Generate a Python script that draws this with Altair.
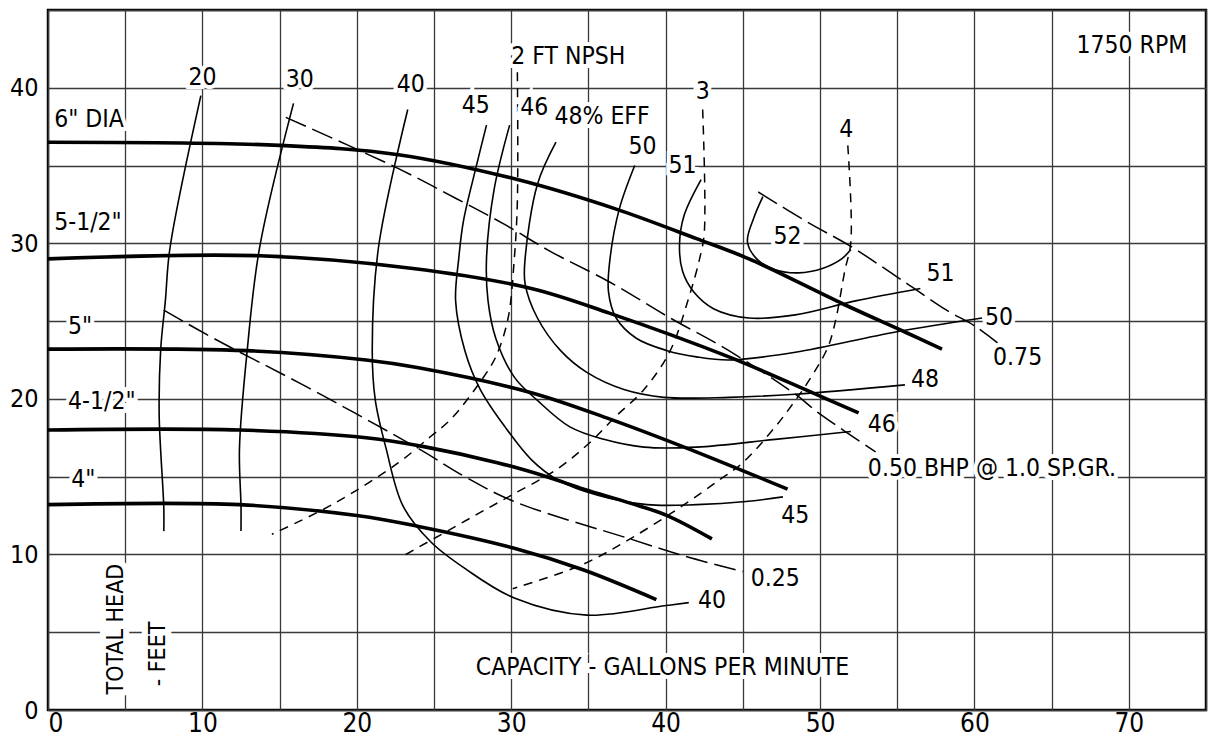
import altair as alt
import pandas as pd

FONT = "Liberation Sans Narrow, DejaVu Sans Condensed, Roboto, sans-serif"

# ---------------- Head-capacity curves (capacity gpm, total head ft) ----------------
dia6_q = [0, 15.0, 22.7, 30.4, 36.8, 42.0, 45.4, 51.5, 55.5, 57.9]
dia6_h = [36.5, 36.3, 35.7, 34.1, 32.2, 30.3, 29.0, 26.1, 24.3, 23.2]
dia55_q = [0, 13.7, 23.5, 31.3, 36.4, 44.1, 49.5, 52.5]
dia55_h = [29.0, 29.2, 28.4, 27.1, 25.5, 22.7, 20.4, 19.1]
dia5_q = [0, 12.9, 20.6, 24.0, 31.3, 36.4, 41.2, 47.9]
dia5_h = [23.2, 23.1, 22.5, 22.0, 20.4, 18.7, 16.9, 14.2]
dia45_q = [0, 12.4, 20.6, 24.5, 29.1, 32.3, 34.7, 37.7, 40.1, 43.0]
dia45_h = [18.0, 18.0, 17.5, 16.9, 15.9, 15.0, 14.2, 13.3, 12.5, 11.0]
dia4_q = [0, 12.4, 20.0, 24.0, 30.2, 34.7, 39.4]
dia4_h = [13.2, 13.2, 12.5, 11.8, 10.4, 9.0, 7.1]

# ---------------- Efficiency curves (%) ----------------
eff20_q = [9.9, 7.9, 7.6, 7.3, 7.2, 7.5, 7.5]
eff20_h = [39.5, 29.7, 26.3, 23.2, 19.0, 13.0, 11.5]
eff30_q = [15.9, 13.7, 12.9, 12.4, 12.5, 12.5]
eff30_h = [39.0, 29.7, 23.1, 16.8, 13.1, 11.5]
eff40_q = [23.3, 21.4, 21.0, 21.2, 21.9, 23.0, 24.8, 27.0, 30.2, 34.9, 39.9, 41.5]
eff40_h = [38.6, 29.7, 23.1, 19.9, 16.8, 13.1, 10.8, 9.1, 7.2, 6.1, 6.7, 6.9]
eff45_q = [28.4, 27.7, 26.9, 26.6, 26.4, 27.0, 28.0, 29.6, 31.3, 33.0, 35.6, 38.8, 42.0, 45.2, 47.6]
eff45_h = [37.6, 34.8, 31.4, 29.0, 26.3, 23.1, 20.6, 18.2, 16.1, 14.8, 13.8, 13.2, 13.2, 13.4, 13.7]
eff46_q = [29.9, 28.9, 28.4, 28.5, 29.0, 30.2, 31.7, 33.8, 36.0, 38.6, 42.0, 47.1, 52.0]
eff46_h = [37.6, 33.5, 29.0, 26.3, 23.9, 21.4, 19.9, 18.2, 17.4, 16.9, 16.9, 17.4, 17.9]
eff48_q = [32.9, 31.7, 30.9, 30.9, 31.7, 33.2, 34.9, 37.3, 39.9, 44.1, 48.4, 55.5]
eff48_h = [36.5, 33.8, 29.0, 27.4, 25.2, 23.1, 21.7, 20.6, 20.1, 20.1, 20.3, 20.9]
eff50_q = [38.0, 37.0, 36.4, 36.3, 36.8, 38.1, 40.1, 42.0, 44.1, 48.4, 54.9, 60.5]
eff50_h = [35.0, 32.2, 29.0, 26.9, 25.2, 23.9, 23.1, 22.7, 22.5, 23.0, 24.3, 25.2]
eff51_q = [42.3, 41.2, 40.9, 41.1, 41.8, 43.1, 45.4, 48.4, 52.3, 56.5]
eff51_h = [34.1, 31.8, 29.9, 28.2, 26.9, 25.8, 25.2, 25.4, 26.3, 27.1]
eff52_q = [46.3, 45.7, 45.3, 45.9, 47.1, 48.6, 50.2, 51.4, 52.0]
eff52_h = [33.0, 31.6, 30.1, 29.0, 28.3, 28.1, 28.4, 29.0, 29.6]

# ---------------- Brake horsepower lines ----------------
bhp025_q = [7.5, 10.9, 16.7, 24.0, 27.0, 30.2, 37.7, 41.2, 45.0]
bhp025_h = [25.7, 23.8, 20.8, 16.8, 15.0, 13.4, 11.0, 9.9, 8.9]
bhp050_q = [15.4, 22.7, 26.4, 29.6, 32.5, 36.4, 40.3, 44.1, 48.4, 49.9, 53.6]
bhp050_h = [38.1, 34.8, 32.9, 31.2, 29.5, 27.5, 25.2, 23.1, 20.3, 19.1, 16.6]
bhp075_q = [46.0, 49.3, 52.0, 55.5, 58.2, 60.0, 61.5]
bhp075_h = [33.3, 31.3, 29.8, 27.5, 25.7, 24.7, 23.6]

# ---------------- NPSH lines ----------------
npsh2_q = [30.4, 30.4, 30.2, 29.8, 29.0, 28.0, 26.1, 24.8, 22.7, 18.4, 14.5]
npsh2_h = [41.0, 32.7, 29.0, 25.2, 22.7, 21.1, 18.7, 17.6, 15.9, 13.2, 11.3]
npsh3_q = [42.4, 42.5, 42.2, 41.5, 40.3, 38.6, 36.8, 35.1, 33.0, 30.0, 28.0, 23.0]
npsh3_h = [38.6, 30.6, 29.0, 26.5, 23.1, 20.6, 18.9, 17.2, 15.5, 13.8, 12.7, 9.9]
npsh4_q = [51.8, 52.0, 51.6, 51.0, 50.5, 49.3, 48.4, 47.1, 45.0, 43.5, 41.2, 37.7, 34.5, 30.1]
npsh4_h = [36.3, 30.1, 28.2, 25.0, 23.3, 21.2, 19.9, 18.2, 15.9, 14.8, 13.2, 11.0, 9.3, 7.8]

# ---------------- Labels ----------------
center_text = ["20", "30", "40", "45", "46", "50", "51", "52", "3", "4", "1750 RPM",
               "CAPACITY - GALLONS PER MINUTE", "51", "50", "48", "46", "45", "40",
               "0.25", "0.75"]
center_q = [10.0, 16.3, 23.5, 27.7, 31.5, 38.5, 41.1, 47.9, 42.4, 51.7, 70.2,
            39.8, 57.8, 61.6, 56.8, 54.0, 48.4, 43.0, 47.1, 62.8]
center_h = [40.6, 40.5, 40.2, 38.8, 38.7, 36.2, 35.0, 30.4, 39.7, 37.3, 42.7,
            2.7, 28.0, 25.2, 21.2, 18.3, 12.5, 7.0, 8.4, 22.6]

left_text = ['6" DIA', '5-1/2"', '5"', '4-1/2"', '4"', "2 FT NPSH", "48% EFF",
             "0.50 BHP @ 1.0 SP.GR."]
left_q = [0.4, 0.4, 1.3, 1.3, 1.5, 30.0, 32.8, 53.1]
left_h = [37.9, 31.3, 24.6, 19.8, 14.8, 42.0, 38.1, 15.5]

vert_text = ["TOTAL HEAD", "- FEET"]
vert_q = [4.4, 7.1]
vert_h = [5.2, 3.6]

x_ticks = list(range(0, 80, 5))
y_ticks = list(range(0, 50, 5))


def frame(curves):
    rows = []
    for name, qs, hs in curves:
        for i, (q, h) in enumerate(zip(qs, hs)):
            rows.append({"curve": name, "i": i, "q": q, "h": h})
    return pd.DataFrame(rows)


heads = frame([("6", dia6_q, dia6_h), ("5.5", dia55_q, dia55_h), ("5", dia5_q, dia5_h),
               ("4.5", dia45_q, dia45_h), ("4", dia4_q, dia4_h)])
effs = frame([("20", eff20_q, eff20_h), ("30", eff30_q, eff30_h), ("40", eff40_q, eff40_h),
              ("45", eff45_q, eff45_h), ("46", eff46_q, eff46_h), ("48", eff48_q, eff48_h),
              ("50", eff50_q, eff50_h), ("51", eff51_q, eff51_h), ("52", eff52_q, eff52_h)])
bhps = frame([("0.25", bhp025_q, bhp025_h), ("0.50", bhp050_q, bhp050_h),
              ("0.75", bhp075_q, bhp075_h)])
npshs = frame([("2", npsh2_q, npsh2_h), ("3", npsh3_q, npsh3_h), ("4", npsh4_q, npsh4_h)])

ctext = pd.DataFrame({"q": center_q, "h": center_h, "t": center_text})
ltext = pd.DataFrame({"q": left_q, "h": left_h, "t": left_text})
vtext = pd.DataFrame({"q": vert_q, "h": vert_h, "t": vert_text})

xs = alt.Scale(domain=[0, 75], nice=False, zero=False)
ys = alt.Scale(domain=[0, 45], nice=False, zero=False)

xaxis = alt.Axis(values=x_ticks, labelExpr="datum.value % 10 == 0 ? datum.label : ''",
                 grid=True, gridColor="#3a3a3a", gridWidth=1.3, ticks=False, domain=False,
                 labelFont=FONT, labelFontSize=26, labelColor="black", labelPadding=0,
                 labelFlush=True, labelOverlap=False, title=None)
yaxis = alt.Axis(values=y_ticks, labelExpr="datum.value % 10 == 0 ? datum.label : ''",
                 grid=True, gridColor="#3a3a3a", gridWidth=1.3, ticks=False, domain=False,
                 labelFont=FONT, labelFontSize=25, labelColor="black", labelPadding=10,
                 labelOverlap=False, title=None)

X = alt.X("q:Q", scale=xs, axis=xaxis)
Y = alt.Y("h:Q", scale=ys, axis=yaxis)


def lines(df, **kw):
    return alt.Chart(df).mark_line(interpolate="catmull-rom", color="black", **kw).encode(
        x=X, y=Y, detail="curve:N", order="i:Q")


head_layer = lines(heads, strokeWidth=3.6)
eff_layer = lines(effs, strokeWidth=1.6)
bhp_layer = lines(bhps, strokeWidth=1.5, strokeDash=[22, 7])
npsh_layer = lines(npshs, strokeWidth=1.5, strokeDash=[9, 7])


def texts(df, align, halo, size, angle=0):
    base = alt.Chart(df)
    kw = dict(font=FONT, fontSize=size, align=align, baseline="middle")
    if angle:
        kw["angle"] = angle
    h = base.mark_text(fill="white", stroke="white", strokeWidth=halo, **kw).encode(
        x=X, y=Y, text="t:N")
    t = base.mark_text(fill="black", **kw).encode(x=X, y=Y, text="t:N")
    return [h, t]


layers = [head_layer, eff_layer, bhp_layer, npsh_layer]
layers += texts(ctext, "center", 8, 24.5)
layers += texts(ltext, "left", 8, 24.5)
layers += texts(vtext, "center", 12, 23, angle=270)

chart = alt.layer(*layers).properties(
    width=1158, height=700,
    autosize=alt.AutoSizeParams(type="none"),
    padding={"left": 40, "top": 2, "right": 2, "bottom": 30},
).configure_view(stroke="black", strokeWidth=2.5)

chart.save("out.html", embed_options={"renderer": "svg", "actions": False})
